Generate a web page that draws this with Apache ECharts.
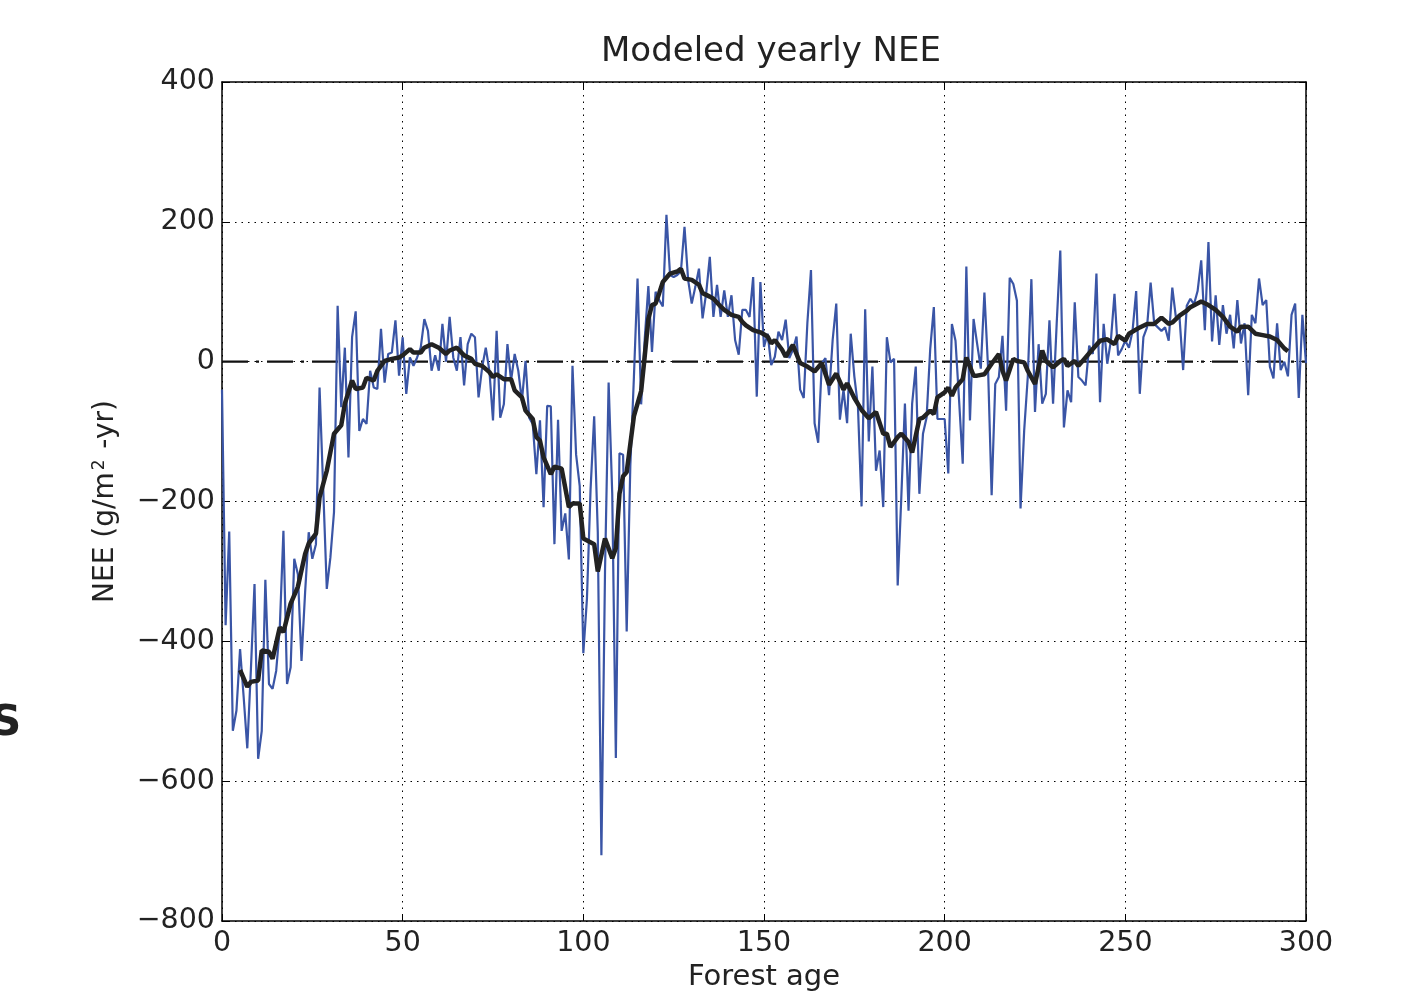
<!DOCTYPE html>
<html>
<head>
<meta charset="utf-8">
<script src="https://cdn.jsdelivr.net/npm/echarts@6/dist/echarts.min.js"></script>
<style>
html,body{margin:0;padding:0;background:#fff;}
#chart{width:1420px;height:992px;}
</style>
</head>
<body>
<div id="chart"></div>
<script>
// Yearly modeled NEE (blue), one value per forest age 0..300
const blueValues = [
 -40,-377,-243,-528,-499,-411,-480,-553,-440,-318,
 -568,-528,-312,-461,-468,-442,-380,-242,-461,-437,
 -282,-304,-428,-330,-244,-282,-261,-37,-180,-325,
 -280,-215,80,-65,20,-137,35,72,-99,-82,
 -89,-13,-37,-39,47,-30,11,13,59,-20,
 35,-46,6,-6,6,20,61,44,-13,9,
 -13,54,0,64,6,-13,35,-34,25,40,
 35,-51,-8,20,-13,-84,44,-80,-61,25,
 -27,11,-13,-56,1,-80,-89,-161,-84,-208,
 -63,-64,-261,-83,-242,-217,-283,-6,-133,-178,
 -417,-339,-183,-78,-244,-706,-300,-30,-189,-567,
 -131,-133,-386,-150,-22,119,-61,33,108,14,
 100,88,79,210,124,121,124,129,193,117,
 83,107,133,62,98,150,64,110,64,102,
 64,95,31,10,74,74,64,121,-50,114,
 21,40,-5,7,43,31,60,5,17,36,
 -40,-52,55,131,-88,-116,-2,5,-48,31,
 83,-83,-40,-88,40,-21,-64,-207,75,-114,
 -7,-156,-127,-208,35,-1,4,-320,-194,-60,
 -213,-60,-7,-189,-103,-80,18,78,-82,-82,
 -82,-160,54,30,-56,-146,136,-84,61,25,
 -10,99,-8,-191,-32,-22,37,-70,120,111,
 87,-210,-99,-22,118,-72,25,-60,-46,59,
 -60,54,159,-94,-41,-58,85,-22,-27,-34,
 23,11,126,-58,54,-3,30,97,9,18,
 30,20,44,101,-46,35,49,113,54,49,
 44,49,30,106,63,63,-12,80,90,82,
 101,145,45,171,29,95,24,81,40,67,
 19,88,26,55,-48,67,55,119,81,88,
 -7,-24,55,-12,0,-21,67,83,-52,67,
 -2
];

// Smoothed NEE (black) read at these forest ages
const blackYears = [5,7,8,10,11,13,14,16,17,19,21,23,24,26,27,29,31,33,34,36,37,39,40,42,43,45,47,49,50,52,53,55,56,58,60,62,63,65,67,69,70,72,74,75,76,78,80,81,83,84,86,87,88,89,91,92,94,96,97,99,100,103,104,106,108,109,110,111,112,114,116,117,118,119,120,121,122,124,126,127,128,130,132,133,135,136,138,139,141,143,144,145,147,149,151,152,153,155,156,158,160,162,164,166,168,170,172,173,175,177,179,181,183,184,185,187,188,190,191,193,194,196,197,198,200,201,202,203,205,206,208,209,211,213,215,216,217,219,220,222,223,225,227,228,230,232,233,234,236,237,239,241,243,245,247,248,250,251,254,256,258,260,262,263,265,267,268,271,273,275,277,279,281,282,284,286,288,290,292,294,295];
const blackValues = [-441,-465,-458,-456,-413,-415,-425,-380,-387,-346,-322,-275,-260,-246,-194,-156,-103,-91,-60,-27,-39,-37,-23,-27,-13,1,4,6,9,18,13,13,20,25,20,11,16,20,9,4,-3,-6,-15,-22,-18,-25,-25,-41,-51,-70,-82,-108,-113,-137,-161,-150,-153,-208,-203,-203,-253,-261,-300,-253,-281,-267,-189,-164,-158,-78,-42,8,61,81,83,98,114,126,129,133,119,117,110,98,93,90,79,74,67,64,57,52,45,42,36,26,31,17,7,24,-2,-7,-14,-2,-33,-17,-40,-31,-52,-69,-81,-72,-103,-103,-122,-108,-103,-115,-130,-82,-80,-70,-75,-51,-44,-37,-49,-37,-25,6,-20,-20,-18,-3,11,-13,-27,4,1,-1,-13,-32,16,1,-8,1,4,-6,1,-6,6,18,30,32,25,37,30,40,49,54,54,63,54,56,66,73,78,86,81,74,64,50,43,50,50,40,38,36,31,19,15];

const xTicks = [0,50,100,150,200,250,300];
const yTicks = [-800,-600,-400,-200,0,200,400];
const zeroLine = [[0,0],[300,0]];

const FONT = 'DejaVu Sans';
const TXT = '#222';
const fmt = v => String(v).replace('-', '\u2212');

const chart = echarts.init(document.getElementById('chart'), null, {renderer:'canvas'});
const gridLine = {show:true, lineStyle:{color:'#000', type:[1.5,5], width:1}};
const tickIn = {show:true, inside:true, length:7, lineStyle:{color:'#000', width:1}};
const frameLine = {show:true, onZero:false, lineStyle:{color:'#000', width:1.5}};

chart.setOption({
  backgroundColor:'#fff',
  animation:false,
  title:{
    text:'Modeled yearly NEE', left:766, top:30, textAlign:'center',
    textStyle:{fontFamily:FONT, fontSize:34, fontWeight:'normal', color:TXT}
  },
  grid:{left:222, right:114, top:82, bottom:71, containLabel:false, outerBoundsMode:'none'},
  graphic:[{
    type:'text', left:-9, top:703,
    style:{text:'S', font:'600 42px "DejaVu Sans"', fill:TXT}
  }],
  xAxis:[{
    type:'value', min:xTicks[0], max:xTicks[xTicks.length-1], interval:50,
    name:'Forest age', nameLocation:'middle', nameGap:40,
    nameTextStyle:{fontFamily:FONT, fontSize:29, color:TXT, verticalAlign:'top'},
    axisLine:frameLine,
    axisTick:tickIn,
    axisLabel:{fontFamily:FONT, fontSize:28.5, color:TXT, margin:8, formatter:fmt},
    splitLine:gridLine
  },{
    type:'value', position:'top', min:0, max:300, interval:50,
    axisLine:frameLine,
    axisTick:tickIn, axisLabel:{show:false}, splitLine:{show:false}
  }],
  yAxis:[{
    type:'value', min:yTicks[0], max:yTicks[yTicks.length-1], interval:200,
    name:'{n|NEE (g/m}{s|2}{n| -yr)}', nameLocation:'middle', nameGap:102, nameRotate:90,
    nameTextStyle:{
      fontFamily:FONT, fontSize:28, color:TXT,
      rich:{
        n:{fontFamily:FONT, fontSize:28, color:TXT},
        s:{fontFamily:FONT, fontSize:17, color:TXT, verticalAlign:'top', padding:[0,2,12,2]}
      }
    },
    axisLine:frameLine,
    axisTick:tickIn,
    axisLabel:{fontFamily:FONT, fontSize:28.5, color:TXT, margin:7, formatter:fmt},
    splitLine:gridLine
  },{
    type:'value', position:'right', min:-800, max:400, interval:200,
    axisLine:frameLine,
    axisTick:tickIn, axisLabel:{show:false}, splitLine:{show:false}
  }],
  series:[{
    type:'line', name:'zero',
    data: zeroLine,
    showSymbol:false, symbol:'none', silent:true,
    lineStyle:{color:'#111', width:2.2, type:[26,8,3,8]},
    z:1
  },{
    type:'line', name:'NEE',
    data: blueValues.map((v,i)=>[i,v]),
    showSymbol:false, symbol:'none',
    lineStyle:{color:'#3a55a6', width:2.2},
    z:2
  },{
    type:'line', name:'smoothed',
    data: blackYears.map((y,i)=>[y, blackValues[i]]),
    showSymbol:false, symbol:'none',
    lineStyle:{color:'#222', width:4.5},
    z:3
  }]
});
</script>
</body>
</html>
